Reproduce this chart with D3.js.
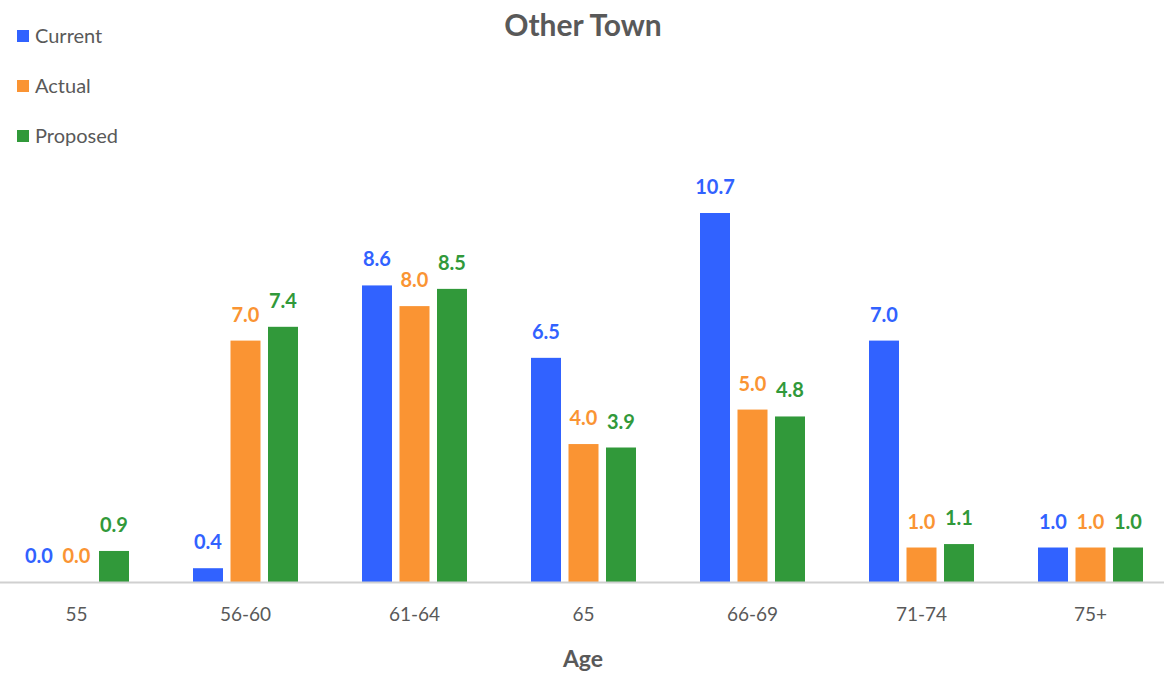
<!DOCTYPE html>
<html>
<head>
<meta charset="utf-8">
<script src="https://cdn.jsdelivr.net/npm/d3@7"></script>
<style>
  html, body { margin: 0; padding: 0; background: #fff; }
  svg { display: block; font-family: Lato, "Open Sans", sans-serif; }
</style>
</head>
<body>
<svg id="chart" width="1164" height="676"></svg>
<script>
const categories = ["55", "56-60", "61-64", "65", "66-69", "71-74", "75+"];
const seriesNames = ["Current", "Actual", "Proposed"];
const current  = [0.0, 0.4, 8.6, 6.5, 10.7, 7.0, 1.0];
const actual   = [0.0, 7.0, 8.0, 4.0, 5.0, 1.0, 1.0];
const proposed = [0.9, 7.4, 8.5, 3.9, 4.8, 1.1, 1.0];
const colors = ["#3162ff", "#fa9433", "#31993a"];

const seriesValues = [current, actual, proposed];
const rows = categories.map((c, i) => ({
  cat: c,
  vals: seriesNames.map((s, k) => ({ key: s, k, v: seriesValues[k][i] }))
}));

const svg = d3.select("#chart");
const baseY = 582;

const x = d3.scaleBand().domain(categories).range([-8, 1175]).paddingInner(0).paddingOuter(0);
const y = d3.scaleLinear().domain([0, 10.7]).range([baseY, 213]);
const groupWidth = 105;
const xs = d3.scaleBand().domain(seriesNames).range([0, groupWidth]).paddingInner(0.2).paddingOuter(0);
const groupOffset = (x.bandwidth() - groupWidth) / 2;

// Title
svg.append("text")
  .attr("x", 583).attr("y", 36)
  .attr("text-anchor", "middle")
  .attr("font-size", 30).attr("font-weight", 700)
  .attr("fill", "#595959")
  .text("Other Town");

// Legend
const leg = svg.append("g");
seriesNames.forEach((s, k) => {
  const g = leg.append("g").attr("transform", `translate(17, ${36 + k * 50})`);
  g.append("rect").attr("x", 0).attr("y", -6).attr("width", 12).attr("height", 12).attr("fill", colors[k]);
  g.append("text").attr("x", 18).attr("y", 7).attr("font-size", 20).attr("fill", "#595959").text(s);
});

// Bars
const groups = svg.append("g").selectAll("g").data(rows).join("g")
  .attr("transform", d => `translate(${x(d.cat) + groupOffset},0)`);

groups.selectAll("rect").data(d => d.vals).join("rect")
  .attr("x", d => xs(d.key))
  .attr("width", xs.bandwidth())
  .attr("y", d => y(d.v))
  .attr("height", d => baseY - y(d.v))
  .attr("fill", d => colors[d.k]);

groups.selectAll("text").data(d => d.vals).join("text")
  .attr("x", d => xs(d.key) + xs.bandwidth() / 2)
  .attr("y", d => y(d.v) - 19)
  .attr("text-anchor", "middle")
  .attr("font-size", 20).attr("font-weight", 700)
  .attr("fill", d => colors[d.k])
  .text(d => d.v.toFixed(1));

// Axis
const axis = svg.append("g").attr("transform", `translate(0,${baseY})`)
  .call(d3.axisBottom(x).tickSize(0).tickPadding(26));
axis.select(".domain").remove();
axis.selectAll("text").attr("font-size", 19).attr("fill", "#595959")
  .attr("font-family", "Lato, 'Open Sans', sans-serif");
svg.append("line").attr("x1", 0).attr("x2", 1164).attr("y1", baseY + 0.5).attr("y2", baseY + 0.5)
  .attr("stroke", "#d0d0d0").attr("stroke-width", 2);

svg.append("text")
  .attr("x", 583).attr("y", 667)
  .attr("text-anchor", "middle")
  .attr("font-size", 23).attr("font-weight", 700)
  .attr("fill", "#595959")
  .text("Age");
</script>
</body>
</html>
